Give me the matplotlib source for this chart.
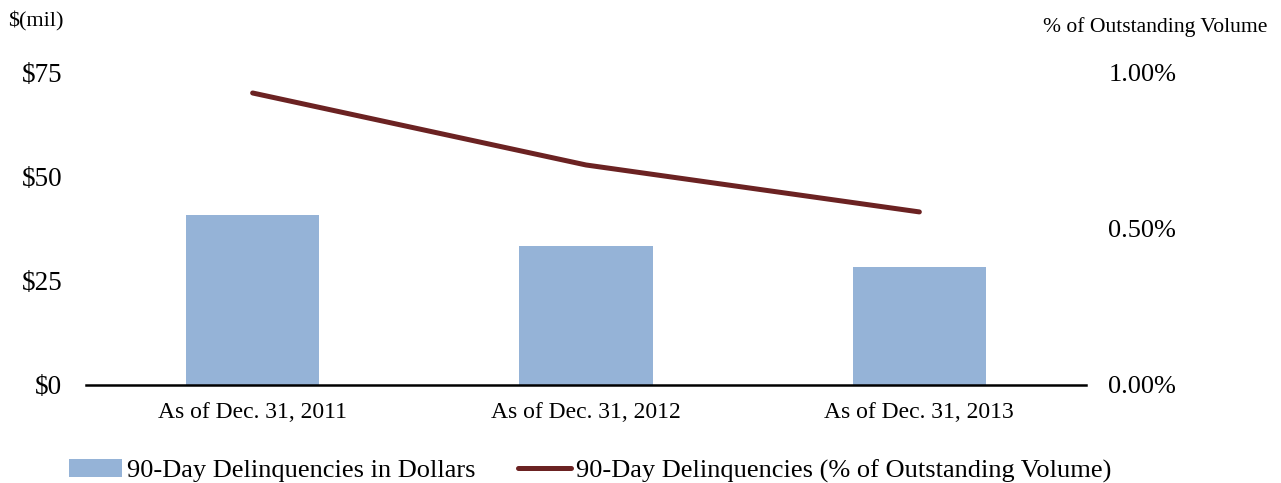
import matplotlib.pyplot as plt
from matplotlib.ticker import FuncFormatter

plt.rcParams['font.family'] = ['Liberation Serif', 'DejaVu Serif']

# Data
categories = ["As of Dec. 31, 2011", "As of Dec. 31, 2012", "As of Dec. 31, 2013"]
dollars_mil = [40.7, 33.3, 28.3]
pct_outstanding = [0.933, 0.703, 0.553]

bar_color = "#95B3D7"
line_color = "#6B2222"

fig = plt.figure(figsize=(12.81, 4.83), dpi=100)
ax = fig.add_axes([0.0671, 0.2029, 0.7807, 0.648])
x = list(range(len(categories)))

bars = ax.bar(x, dollars_mil, width=0.4, color=bar_color,
              label="90-Day Delinquencies in Dollars", zorder=2)
ax.set_xlim(-0.5, 2.5)
ax.set_ylim(0, 75)
ax.set_yticks([0, 25, 50, 75])
ax.yaxis.set_major_formatter(FuncFormatter(lambda v, p: f"${v:.0f}"))
ax.set_xticks(x)
ax.set_xticklabels(categories, fontsize=17)
ax.tick_params(axis='y', length=0, pad=17, labelsize=19.5)
ax.tick_params(axis='x', length=0, pad=12)
for s in ["top", "left", "right"]:
    ax.spines[s].set_visible(False)
ax.spines["bottom"].set_linewidth(1.8)
ax.spines["bottom"].set_color("black")

ax2 = ax.twinx()
line, = ax2.plot(x, pct_outstanding, color=line_color, linewidth=3.6,
                 solid_capstyle='round',
                 label="90-Day Delinquencies (% of Outstanding Volume)", zorder=3)
ax2.set_ylim(0, 1.0)
ax2.set_yticks([0, 0.5, 1.0])
ax2.yaxis.set_major_formatter(FuncFormatter(lambda v, p: f"{v:.2f}%"))
ax2.tick_params(axis='y', length=0, pad=16, labelsize=19)
for s in ["top", "left", "right", "bottom"]:
    ax2.spines[s].set_visible(False)

fig.text(0.006, 0.955, "$(mil)", fontsize=16, ha='left', va='center')
fig.text(0.989, 0.945, "% of Outstanding Volume", fontsize=15.6, ha='right', va='center')

fig.legend(handles=[bars, line], loc='center', bbox_to_anchor=(0.461, 0.025),
           ncol=2, frameon=False, fontsize=19, handlelength=2.0,
           handletextpad=0.2, columnspacing=1.6, borderaxespad=0)

fig.savefig("out.png", dpi=100)
